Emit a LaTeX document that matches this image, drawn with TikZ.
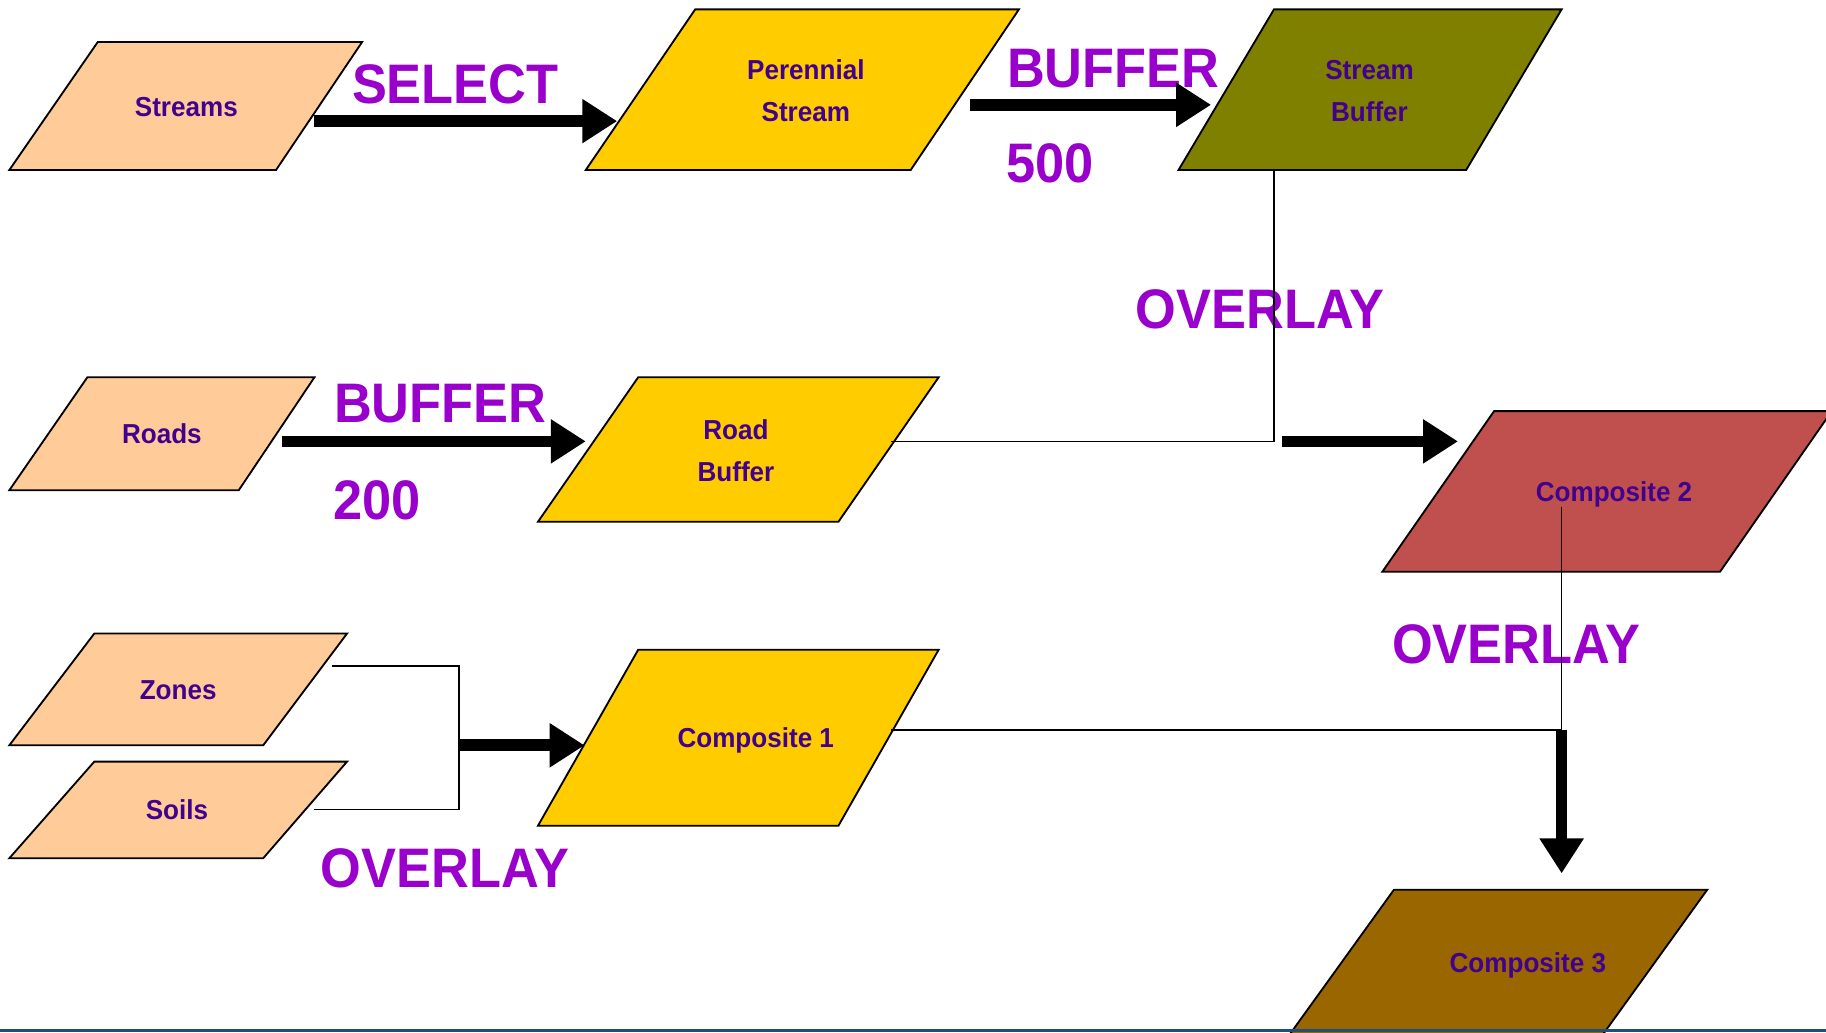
\documentclass[tikz,border=0pt]{standalone}
\usepackage{fontspec}
\usetikzlibrary{arrows.meta}
\newfontfamily\lblfont{Liberation Sans}[FakeStretch=0.94]
\newfontfamily\boxfont{Liberation Sans}[FakeStretch=0.95]
\definecolor{peach}{HTML}{FFCC99}
\definecolor{gold}{HTML}{FFCC00}
\definecolor{olivebox}{HTML}{808000}
\definecolor{brick}{HTML}{C0504D}
\definecolor{umber}{HTML}{996600}
\definecolor{txt}{HTML}{42008F}
\definecolor{lbl}{HTML}{9900CC}
\definecolor{rule}{HTML}{1F4E79}
\begin{document}
\begin{tikzpicture}[x=0.01cm,y=-0.01cm,
  shapeline/.style={draw=black,line width=0.45pt,line join=miter},
  boxtext/.style={font={\boxfont\bfseries\fontsize{6.7}{10.24}\selectfont},text=txt,align=center,inner sep=0pt},
  oplabel/.style={font={\lblfont\bfseries\fontsize{13.6}{16}\selectfont},text=lbl,inner sep=0pt,anchor=base},
  flow/.style={line width=2.85pt,-{Triangle[length=0.3cm,width=0.36cm]}},
  link/.style={line width=0.35pt}]

\useasboundingbox (0,0) rectangle (1568,887);
\clip (0,0) rectangle (1568,887);

% data layers (parallelograms)
\path[shapeline,fill=peach]    (84,36)   -- (311,36)   -- (237,146)  -- (8,146)    -- cycle;
\path[shapeline,fill=gold]     (597,8)   -- (875,8)    -- (782,146)  -- (503,146)  -- cycle;
\path[shapeline,fill=olivebox] (1094,8)  -- (1341,8)   -- (1259,146) -- (1012,146) -- cycle;
\path[shapeline,fill=peach]    (75,324)  -- (270,324)  -- (205,421)  -- (8,421)    -- cycle;
\path[shapeline,fill=gold]     (548,324) -- (806,324)  -- (720,448)  -- (462,448)  -- cycle;
\path[shapeline,fill=brick]    (1283,353) -- (1573,353) -- (1477,491) -- (1187,491) -- cycle;
\path[shapeline,fill=peach]    (81,544)  -- (298,544)  -- (226,640)  -- (8,640)    -- cycle;
\path[shapeline,fill=peach]    (81,654)  -- (298,654)  -- (226,737)  -- (8,737)    -- cycle;
\path[shapeline,fill=gold]     (548,558) -- (806,558)  -- (720,709)  -- (462,709)  -- cycle;
\path[shapeline,fill=umber]    (1197,764) -- (1466,764) -- (1368,900) -- (1099,900) -- cycle;

% layer names
\node[boxtext,anchor=base] (streams) at (160,100) {Streams};
\node[boxtext] (perennial) at (692,78) {Perennial\\Stream};
\node[boxtext] (sbuf) at (1176,78) {Stream\\Buffer};
\node[boxtext,anchor=base] (roads) at (139,381) {Roads};
\node[boxtext] (rbuf) at (632,387) {Road\\Buffer};
\node[boxtext,anchor=base] (comp2) at (1386,431) {Composite 2};
\node[boxtext,anchor=base] (zones) at (153,601) {Zones};
\node[boxtext,anchor=base] (soils) at (152,704) {Soils};
\node[boxtext,anchor=base] (comp1) at (649,642) {Composite 1};
\node[boxtext,anchor=base] (comp3) at (1312,835) {Composite 3};

% operation names
\node[oplabel] (opselect) at (391,89) {SELECT};
\node[oplabel] (opbufa) at (956,75) {BUFFER};
\node[oplabel] (dista) at (902,157) {500};
\node[oplabel] (opova) at (1082,282) {OVERLAY};
\node[oplabel] (opbufb) at (378,363) {BUFFER};
\node[oplabel] (distb) at (324,446) {200};
\node[oplabel] (opovb) at (1302,570) {OVERLAY};
\node[oplabel] (opovc) at (382,762) {OVERLAY};

% connection points
\coordinate (streamsR) at (270,104);
\coordinate (perennialL) at (530,104);
\coordinate (perennialR) at (833,90);
\coordinate (sbufL) at (1040,90);
\coordinate (sbufB) at (1094,146);
\coordinate (ovaJ) at (1094,379);
\coordinate (rbufR) at (765,379);
\coordinate (ovaS) at (1101,379);
\coordinate (comp2L) at (1252,379);
\coordinate (roadsR) at (242,379);
\coordinate (rbufL) at (503,379);
\coordinate (zonesR) at (285,572);
\coordinate (zonesJ) at (394,572);
\coordinate (soilsR) at (270,695);
\coordinate (soilsJ) at (394,695);
\coordinate (ovcS) at (394,640);
\coordinate (comp1L) at (502,640);
\coordinate (comp1R) at (765,627);
\coordinate (comp2C) at (1341,435);
\coordinate (ovbJ) at (1341,627);
\coordinate (comp3T) at (1341,750);

% thin joins
\draw[link] (sbufB) -- (ovaJ) -- (rbufR);
\draw[link] (zonesR) -- (zonesJ) -- (soilsJ) -- (soilsR);
\draw[link] (comp2C) -- (ovbJ);
\draw[link] (comp1R) -- (ovbJ);

% operation arrows
\draw[flow] (streamsR) -- (perennialL);
\draw[flow] (perennialR) -- (sbufL);
\draw[flow] (roadsR) -- (rbufL);
\draw[flow] (ovaS) -- (comp2L);
\draw[flow] (ovcS) -- (comp1L);
\draw[flow] (ovbJ) -- (comp3T);

% bottom rule
\coordinate (ruleL) at (0,885);
\coordinate (ruleR) at (1568,885);
\draw[rule,line width=0.6pt] (ruleL) -- (ruleR);
\end{tikzpicture}
\end{document}
